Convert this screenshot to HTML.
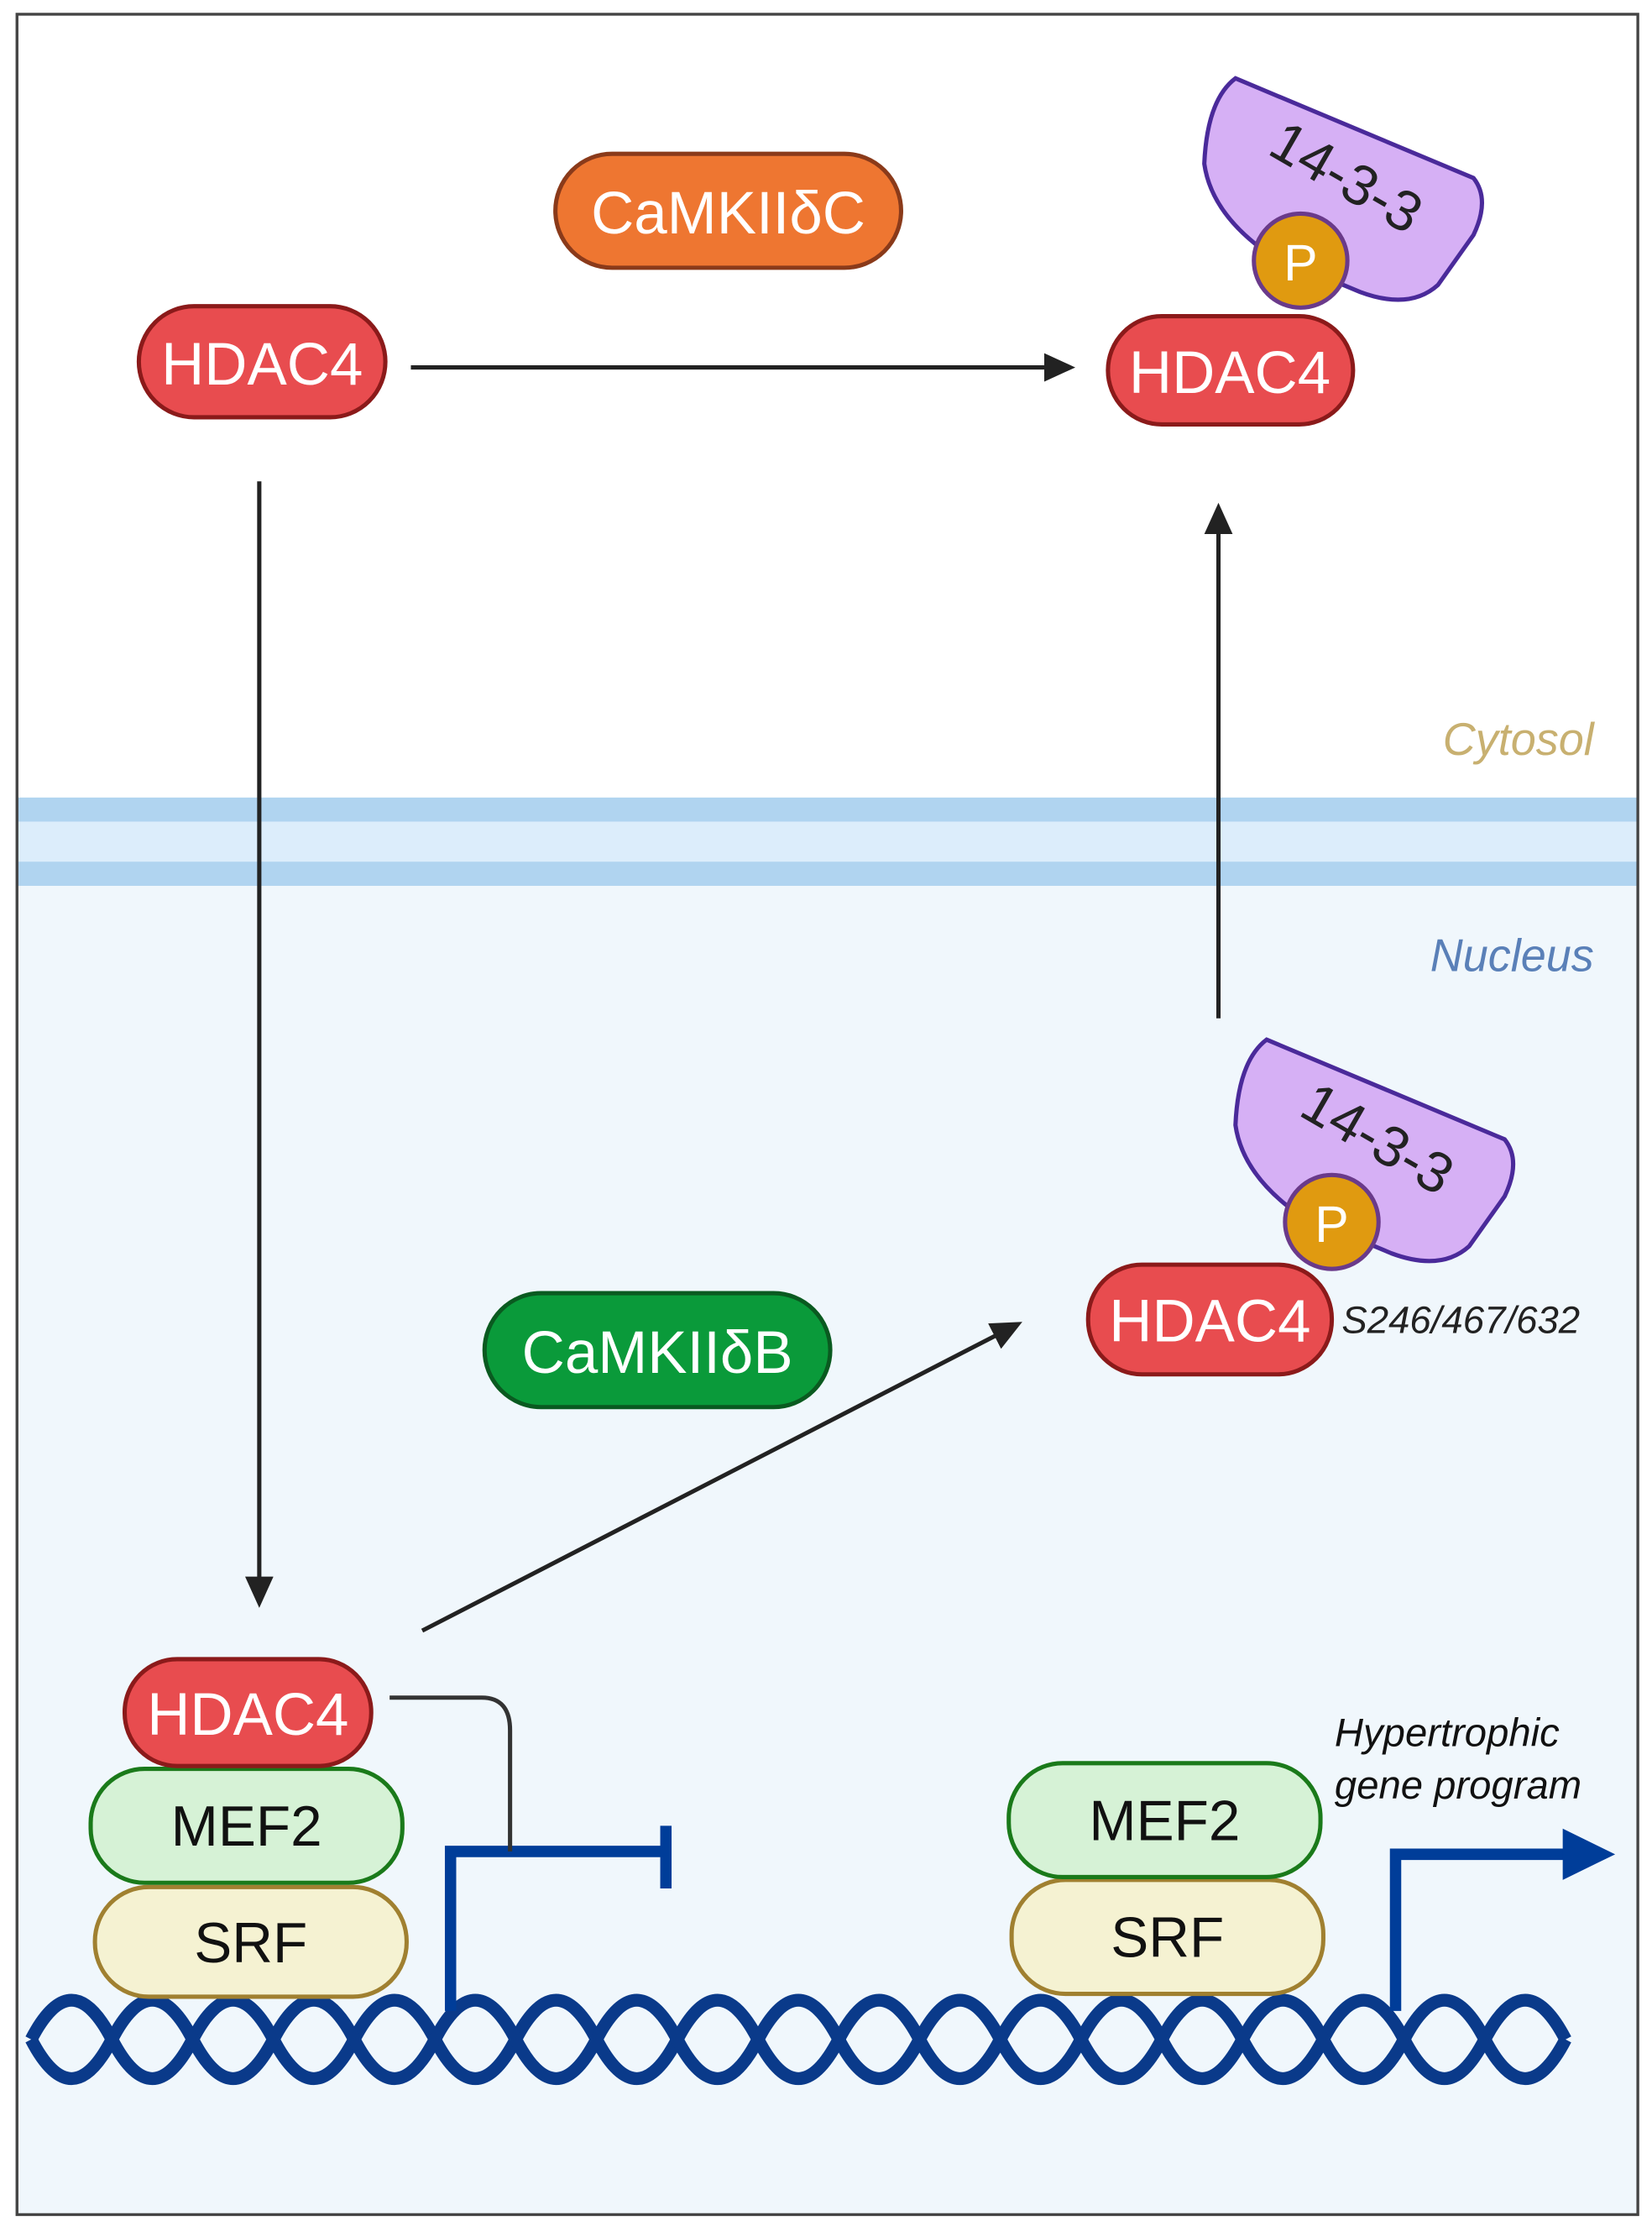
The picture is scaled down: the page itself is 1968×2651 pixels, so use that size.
<!DOCTYPE html>
<html><head><meta charset="utf-8"><style>html,body{margin:0;padding:0;background:#fff}svg{display:block}</style></head>
<body>
<svg width="1968" height="2651" viewBox="0 0 1166 1563" preserveAspectRatio="none" xmlns="http://www.w3.org/2000/svg" font-family="Liberation Sans, sans-serif">
<defs>
<marker id="ah" markerWidth="22" markerHeight="20" refX="18" refY="10" orient="auto" markerUnits="userSpaceOnUse" viewBox="0 0 22 20"><path d="M0,0 L22,10 L0,20 z" fill="#222"/></marker>
</defs>
<rect x="0" y="0" width="1166" height="1563" fill="#fff"/>
<rect x="12" y="622" width="1144" height="933" fill="#f0f7fc"/>
<rect x="12" y="560" width="1144" height="17" fill="#b0d4f0"/>
<rect x="12" y="577" width="1144" height="28" fill="#dcedfb"/>
<rect x="12" y="605" width="1144" height="17" fill="#b0d4f0"/>
<rect x="12" y="10" width="1144" height="1545" fill="none" stroke="#444" stroke-width="2"/>

<text x="1125" y="530" text-anchor="end" font-style="italic" font-size="32" fill="#c8b070">Cytosol</text>
<text x="1125" y="682" text-anchor="end" font-style="italic" font-size="32" fill="#5a80b8">Nucleus</text>

<!-- arrows -->
<line x1="290" y1="258" x2="755" y2="258" stroke="#222" stroke-width="3" marker-end="url(#ah)"/>
<line x1="183" y1="338" x2="183" y2="1125" stroke="#222" stroke-width="3" marker-end="url(#ah)"/>
<line x1="860" y1="715" x2="860" y2="357" stroke="#222" stroke-width="3" marker-end="url(#ah)"/>
<line x1="298" y1="1145" x2="718" y2="930" stroke="#222" stroke-width="3" marker-end="url(#ah)"/>

<!-- CaMKIIdC -->
<rect x="392" y="108" width="244" height="80" rx="40" fill="#ee7631" stroke="#8a3a1a" stroke-width="3"/>
<text x="514" y="164" text-anchor="middle" font-size="42" fill="#fff">CaMKIIδC</text>
<!-- HDAC4 left -->
<rect x="98" y="215" width="174" height="78" rx="39" fill="#e84c4f" stroke="#8b1a1a" stroke-width="3"/>
<text x="185" y="270" text-anchor="middle" font-size="42" fill="#fff">HDAC4</text>

<!-- 14-3-3 upper -->
<g>
<path d="M872,55 L1040,125 Q1052,140 1040,165 L1015,200 Q995,218 960,205 L895,178 Q855,150 850,115 Q852,70 872,55 Z" fill="#d6b0f5" stroke="#4a2a9a" stroke-width="3"/>
<text x="950" y="138" text-anchor="middle" font-size="40" fill="#222" transform="rotate(30 950 125)">14-3-3</text>
<rect x="782" y="222" width="173" height="76" rx="38" fill="#e84c4f" stroke="#8b1a1a" stroke-width="3"/>
<circle cx="918" cy="183" r="33" fill="#e09a10" stroke="#6a3a8a" stroke-width="3"/>
<text x="918" y="197" text-anchor="middle" font-size="36" fill="#fff">P</text>
<text x="868" y="276" text-anchor="middle" font-size="42" fill="#fff">HDAC4</text>
</g>

<!-- 14-3-3 lower -->
<g transform="translate(22,675)">
<path d="M872,55 L1040,125 Q1052,140 1040,165 L1015,200 Q995,218 960,205 L895,178 Q855,150 850,115 Q852,70 872,55 Z" fill="#d6b0f5" stroke="#4a2a9a" stroke-width="3"/>
<text x="950" y="138" text-anchor="middle" font-size="40" fill="#222" transform="rotate(30 950 125)">14-3-3</text>
</g>
<rect x="768" y="888" width="172" height="77" rx="38" fill="#e84c4f" stroke="#8b1a1a" stroke-width="3"/>
<circle cx="940" cy="858" r="33" fill="#e09a10" stroke="#6a3a8a" stroke-width="3"/>
<text x="940" y="872" text-anchor="middle" font-size="36" fill="#fff">P</text>
<text x="854" y="942" text-anchor="middle" font-size="42" fill="#fff">HDAC4</text>
<text x="947" y="936" font-size="27" font-style="italic" fill="#222">S246/467/632</text>

<!-- CaMKIIdB -->
<rect x="342" y="908" width="244" height="80" rx="40" fill="#0a9a3a" stroke="#0a5a20" stroke-width="3"/>
<text x="464" y="964" text-anchor="middle" font-size="42" fill="#fff">CaMKIIδB</text>

<!-- DNA -->
<g fill="none" stroke="#0a3a8a" stroke-width="9">
<path d="M22 1432 q28.5 -55 57 0 t57 0 t57 0 t57 0 t57 0 t57 0 t57 0 t57 0 t57 0 t57 0 t57 0 t57 0 t57 0 t57 0 t57 0 t57 0 t57 0 t57 0 t57 0"/>
<path d="M22 1432 q28.5 55 57 0 t57 0 t57 0 t57 0 t57 0 t57 0 t57 0 t57 0 t57 0 t57 0 t57 0 t57 0 t57 0 t57 0 t57 0 t57 0 t57 0 t57 0 t57 0"/>
</g>

<!-- promoters -->
<path d="M318,1412 L318,1300 L470,1300" fill="none" stroke="#003d99" stroke-width="8"/>
<line x1="470" y1="1282" x2="470" y2="1326" stroke="#003d99" stroke-width="8"/>
<path d="M985,1412 L985,1302 L1105,1302" fill="none" stroke="#003d99" stroke-width="8"/>
<path d="M1103,1284 L1140,1302 L1103,1320 Z" fill="#003d99"/>
<path d="M275,1192 L340,1192 Q360,1192 360,1215 L360,1300" fill="none" stroke="#333" stroke-width="3"/>

<!-- left complex -->
<rect x="67" y="1325" width="220" height="77" rx="38" fill="#f5f2d2" stroke="#a08030" stroke-width="3"/>
<text x="177" y="1378" text-anchor="middle" font-size="40" fill="#111">SRF</text>
<rect x="64" y="1242" width="220" height="80" rx="38" fill="#d6f2d6" stroke="#1a7a1a" stroke-width="3"/>
<text x="174" y="1296" text-anchor="middle" font-size="40" fill="#111">MEF2</text>
<rect x="88" y="1165" width="174" height="75" rx="37" fill="#e84c4f" stroke="#8b1a1a" stroke-width="3"/>
<text x="175" y="1218" text-anchor="middle" font-size="42" fill="#fff">HDAC4</text>

<!-- right complex -->
<rect x="714" y="1320" width="220" height="80" rx="38" fill="#f5f2d2" stroke="#a08030" stroke-width="3"/>
<text x="824" y="1374" text-anchor="middle" font-size="40" fill="#111">SRF</text>
<rect x="712" y="1238" width="220" height="80" rx="38" fill="#d6f2d6" stroke="#1a7a1a" stroke-width="3"/>
<text x="822" y="1292" text-anchor="middle" font-size="40" fill="#111">MEF2</text>

<text x="942" y="1226" font-size="28" font-style="italic" fill="#111">Hypertrophic</text>
<text x="942" y="1263" font-size="28" font-style="italic" fill="#111">gene program</text>
</svg>
</body></html>
